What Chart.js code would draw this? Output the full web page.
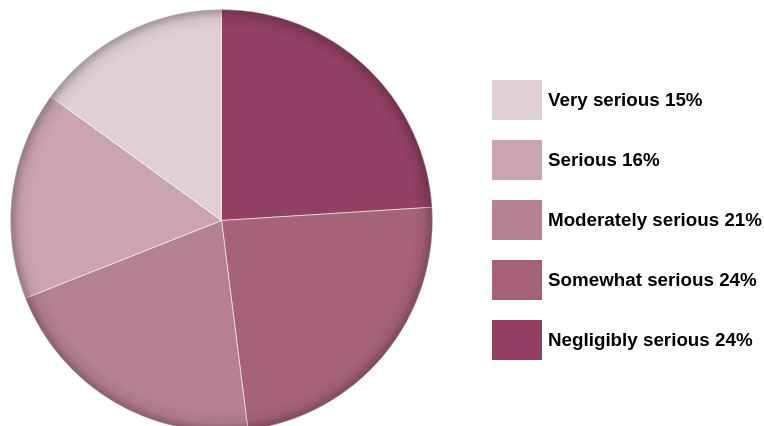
<!DOCTYPE html>
<html>
<head>
<meta charset="utf-8">
<script src="https://cdn.jsdelivr.net/npm/chart.js@4.4.0/dist/chart.umd.min.js"></script>
<style>
    html, body { margin: 0; padding: 0; background: #fff; overflow: hidden; }
    #wrap { position: relative; width: 764px; height: 426px; overflow: hidden; }
    #pieChart { position: absolute; left: 0; top: 0; }
    #legend { position: absolute; left: 492px; top: 80px; }
    .legend-item { display: flex; align-items: center; height: 40px; margin-bottom: 20px; }
    .legend-box { width: 50px; height: 40px; margin-right: 6px; }
    .legend-text { font-family: "Liberation Sans", Arial, sans-serif; font-weight: bold; font-size: 18.8px; color: #000; white-space: nowrap; }
</style>
</head>
<body>
<div id="wrap">
    <!-- canvas is a bit taller than the page: the pie runs off the bottom edge -->
    <canvas id="pieChart" width="764" height="432"></canvas>
    <div id="legend"></div>
</div>
<script>
// --- DATA (legend order) ---
const categories = ['Very serious', 'Serious', 'Moderately serious', 'Somewhat serious', 'Negligibly serious'];
const shares = [15, 16, 21, 24, 24];
const colors = ['#e0cfd5', '#caa5af', '#b5808f', '#a66279', '#934064'];

// pie is drawn clockwise from the top starting with the last legend entry
const pieLabels = categories.slice().reverse();
const pieValues = shares.slice().reverse();
const pieColors = colors.slice().reverse();

// --- rim shading plugin ---
const rimShade = {
    id: 'rimShade',
    afterDatasetsDraw(chart) {
        const arc = chart.getDatasetMeta(0).data[0];
        if (!arc) return;
        const { x, y, outerRadius } = arc.getProps(['x', 'y', 'outerRadius'], true);
        const ctx = chart.ctx;
        const g = ctx.createRadialGradient(x, y, outerRadius - 20, x, y, outerRadius);
        g.addColorStop(0, 'rgba(40,20,30,0)');
        g.addColorStop(0.55, 'rgba(40,20,30,0.07)');
        g.addColorStop(1, 'rgba(40,20,30,0.32)');
        ctx.save();
        ctx.beginPath();
        ctx.arc(x, y, outerRadius, 0, Math.PI * 2);
        ctx.fillStyle = g;
        ctx.fill();
        ctx.restore();
    }
};

new Chart(document.getElementById('pieChart'), {
    type: 'pie',
    data: {
        labels: pieLabels,
        datasets: [{
            data: pieValues,
            backgroundColor: pieColors,
            borderColor: 'rgba(255,255,255,0.55)',
            borderWidth: 1
        }]
    },
    options: {
        responsive: false,
        animation: false,
        layout: { padding: { left: 8, top: 9, right: 329, bottom: 0 } },
        plugins: {
            legend: { display: false },
            tooltip: { enabled: false }
        }
    },
    plugins: [rimShade]
});

// --- LEGEND ---
document.getElementById('legend').innerHTML = categories.map((c, i) => `
    <div class="legend-item">
        <div class="legend-box" style="background:${colors[i]}"></div>
        <span class="legend-text">${c} ${shares[i]}%</span>
    </div>
`).join('');
</script>
</body>
</html>
